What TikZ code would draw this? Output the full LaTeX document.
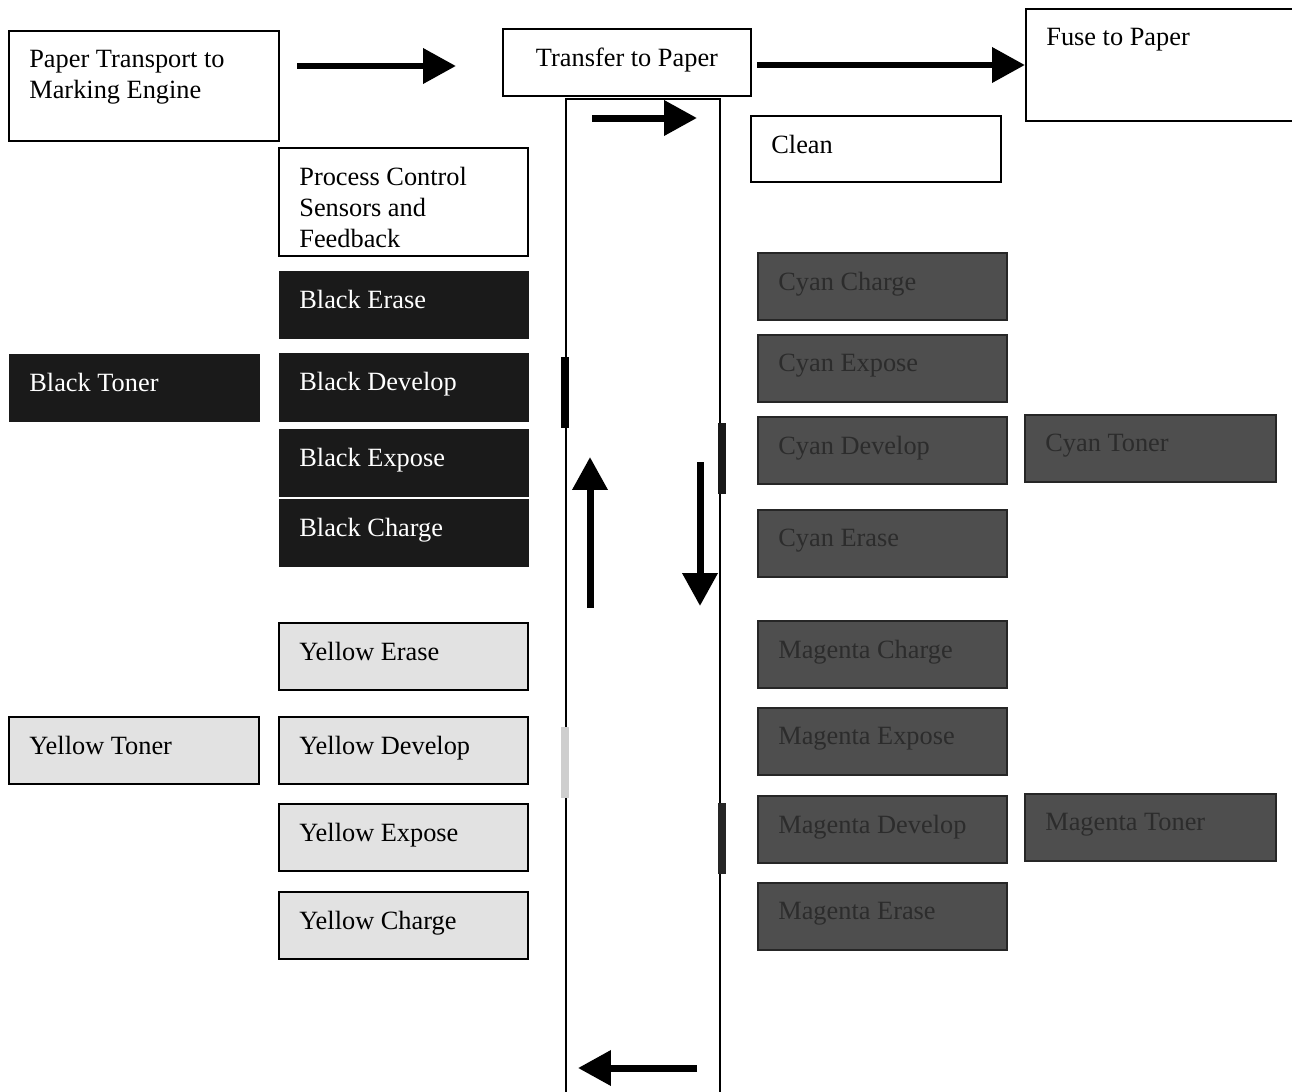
\documentclass[tikz,border=0pt]{standalone}
\usepackage{fontspec}
\setmainfont{Liberation Serif}
\usetikzlibrary{arrows.meta,calc}
\definecolor{blkfill}{HTML}{1A1A1A}
\definecolor{yelfill}{HTML}{E2E2E2}
\definecolor{cyfill}{HTML}{4E4E4E}
\definecolor{cytext}{HTML}{2C2C2C}
\definecolor{cyborder}{HTML}{262626}
\tikzset{
  box/.style={draw, line width=0.04cm, inner sep=0pt, anchor=north west},
  txt/.style={inner sep=0pt, align=left, font=\fontsize{15}{17.6}\selectfont},
  bigarrow/.style={line width=0.14cm, -{Triangle[length=0.66cm,width=0.68cm]}},
  bar/.style={inner sep=0pt, anchor=north west, draw=none},
}
% \bx{name}{x1}{y1}{x2}{y2}{box options}{text colour}{text}
\newcommand\bx[8]{%
  \node[box,#6,minimum width={(#4-#2)*0.02cm},minimum height={(#5-#3)*0.02cm}] (#1) at (#2,#3) {};
  \node[txt,text=#7,anchor=north west] (#1-t) at ([xshift=0.42cm,yshift=-0.40cm]#1.north west) {#8};
}
\begin{document}
\begin{tikzpicture}[x=0.02cm,y=-0.02cm]
\useasboundingbox (0,0) rectangle (1292,1092);
\fill[white] (0,0) rectangle (1292,1092);

% belt
\node[box,minimum width={154*0.02cm},minimum height={1010*0.02cm}] (belt) at (565,98) {};

% top row
\bx{pt}{8}{30}{278}{140}{fill=white}{black}{Paper Transport to\\Marking Engine}
\node[box,fill=white,minimum width={248*0.02cm},minimum height={67*0.02cm}] (tp) at (502,28) {};
\node[txt,anchor=north] (tp-t) at ([yshift=-0.40cm]tp.north) {Transfer to Paper};
\bx{fuse}{1025}{8}{1300}{120}{fill=white}{black}{Fuse to Paper}
\bx{clean}{750}{115}{1000}{181}{fill=white}{black}{Clean}
\bx{pc}{278}{147}{527}{255}{fill=white}{black}{Process Control\\Sensors and\\Feedback}

% black station
\bx{ber}{278}{270}{528}{338}{fill=blkfill,draw=none}{white}{Black Erase}
\bx{bdev}{278}{352}{528}{421}{fill=blkfill,draw=none}{white}{Black Develop}
\bx{bexp}{278}{428}{528}{496}{fill=blkfill,draw=none}{white}{Black Expose}
\bx{bch}{278}{498}{528}{566}{fill=blkfill,draw=none}{white}{Black Charge}
\bx{bton}{8}{353}{259}{421}{fill=blkfill,draw=none}{white}{Black Toner}

% yellow station
\bx{yer}{278}{622}{527}{689}{fill=yelfill}{black}{Yellow Erase}
\bx{ydev}{278}{716}{527}{783}{fill=yelfill}{black}{Yellow Develop}
\bx{yexp}{278}{803}{527}{870}{fill=yelfill}{black}{Yellow Expose}
\bx{ych}{278}{891}{527}{958}{fill=yelfill}{black}{Yellow Charge}
\bx{yton}{8}{716}{258}{783}{fill=yelfill}{black}{Yellow Toner}

% cyan station
\bx{cch}{757}{252}{1006}{319}{fill=cyfill,draw=cyborder}{cytext}{Cyan Charge}
\bx{cexp}{757}{334}{1006}{401}{fill=cyfill,draw=cyborder}{cytext}{Cyan Expose}
\bx{cdev}{757}{416}{1006}{483}{fill=cyfill,draw=cyborder}{cytext}{Cyan Develop}
\bx{cer}{757}{509}{1006}{576}{fill=cyfill,draw=cyborder}{cytext}{Cyan Erase}
\bx{cton}{1024}{414}{1275}{481}{fill=cyfill,draw=cyborder}{cytext}{Cyan Toner}

% magenta station
\bx{mch}{757}{620}{1006}{687}{fill=cyfill,draw=cyborder}{cytext}{Magenta Charge}
\bx{mexp}{757}{707}{1006}{774}{fill=cyfill,draw=cyborder}{cytext}{Magenta Expose}
\bx{mdev}{757}{795}{1006}{862}{fill=cyfill,draw=cyborder}{cytext}{Magenta Develop}
\bx{mer}{757}{882}{1006}{949}{fill=cyfill,draw=cyborder}{cytext}{Magenta Erase}
\bx{mton}{1024}{793}{1275}{860}{fill=cyfill,draw=cyborder}{cytext}{Magenta Toner}

% development contact bars on the belt
\node[bar,fill=black,minimum width={8*0.02cm},minimum height={71*0.02cm}] (kbar) at (561,357) {};
\node[bar,fill=yelfill!80!gray,minimum width={8*0.02cm},minimum height={71*0.02cm}] (ybar) at (561,727) {};
\node[bar,fill=black!90,minimum width={8*0.02cm},minimum height={71*0.02cm}] (cbar) at (718,423) {};
\node[bar,fill=black!85,minimum width={8*0.02cm},minimum height={71*0.02cm}] (mbar) at (718,803) {};

% arrows
\coordinate (a1s) at (297,66);  \coordinate (a1e) at (456,66);
\coordinate (a2s) at (757,65);  \coordinate (a2e) at (1025,65);
\coordinate (a3s) at (592,118); \coordinate (a3e) at (697,118);
\coordinate (a4s) at (590,608); \coordinate (a4e) at (590,457);
\coordinate (a5s) at (700,462); \coordinate (a5e) at (700,606);
\coordinate (a6s) at (697,1068); \coordinate (a6e) at (578,1068);
\draw[bigarrow] (a1s) -- (a1e);
\draw[bigarrow] (a2s) -- (a2e);
\draw[bigarrow] (a3s) -- (a3e);
\draw[bigarrow] (a4s) -- (a4e);
\draw[bigarrow] (a5s) -- (a5e);
\draw[bigarrow] (a6s) -- (a6e);
\end{tikzpicture}
\end{document}
